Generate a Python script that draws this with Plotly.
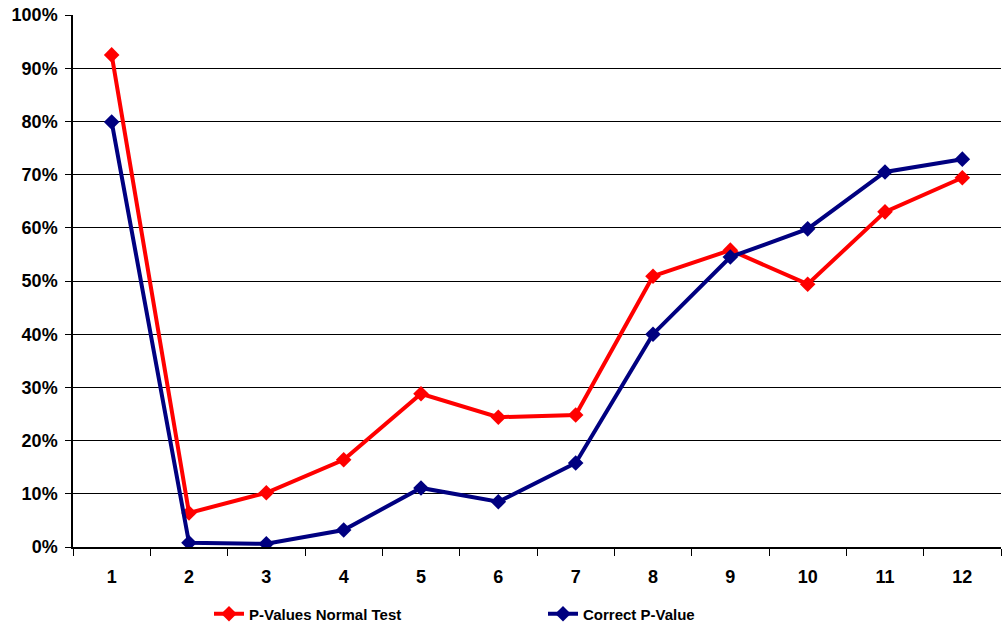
import plotly.graph_objects as go

# Sample index along the x axis
categories = ["1", "2", "3", "4", "5", "6", "7", "8", "9", "10", "11", "12"]

# p-values (fractions) for each test method
normal_test = [0.925, 0.064, 0.102, 0.164, 0.288, 0.244, 0.248, 0.509, 0.558, 0.494, 0.630, 0.694]
correct_p = [0.799, 0.008, 0.006, 0.032, 0.111, 0.085, 0.158, 0.400, 0.545, 0.598, 0.705, 0.729]

series_names = ["P-Values Normal Test", "Correct P-Value"]
y_ticks = [i / 10 for i in range(11)]
y_tick_labels = [f"{int(round(v * 100))}%" for v in y_ticks]

FONT = "Liberation Sans, Arial, sans-serif"


def bold(s):
    return f"<b>{s}</b>"


fig = go.Figure()
fig.add_trace(go.Scatter(
    x=categories, y=normal_test, name=bold(series_names[0]),
    mode="lines+markers",
    line=dict(color="#FF0000", width=4),
    marker=dict(symbol="diamond", size=12, color="#FF0000"),
))
fig.add_trace(go.Scatter(
    x=categories, y=correct_p, name=bold(series_names[1]),
    mode="lines+markers",
    line=dict(color="#000080", width=4),
    marker=dict(symbol="diamond", size=12, color="#000080"),
))

fig.update_layout(
    width=1002, height=629,
    margin=dict(l=73, r=1, t=15, b=82, autoexpand=False),
    paper_bgcolor="white", plot_bgcolor="white",
    font=dict(family=FONT, color="black"),
    showlegend=True,
    legend=dict(
        orientation="h", x=(209 - 73) / 928, xref="paper",
        xanchor="left", y=-0.126, yanchor="middle",
        font=dict(family=FONT, size=15, color="black"),
        entrywidth=289, entrywidthmode="pixels",
        bgcolor="rgba(0,0,0,0)",
    ),
    xaxis=dict(
        type="category", range=[-0.5, 11.5],
        tickvals=categories, ticktext=[bold(c) for c in categories],
        showgrid=False, showline=True, linecolor="black", linewidth=1.5,
        ticks="outside", tickson="boundaries", ticklen=7, tickcolor="black",
        tickfont=dict(family=FONT, size=18),
        ticklabelstandoff=13, zeroline=False,
    ),
    yaxis=dict(
        range=[0, 1], tickvals=y_ticks, ticktext=[bold(t) for t in y_tick_labels],
        showgrid=True, gridcolor="black", gridwidth=1,
        showline=True, linecolor="black", linewidth=1.5,
        ticks="outside", ticklen=6, tickcolor="black",
        tickfont=dict(family=FONT, size=18),
        ticklabelstandoff=4, zeroline=False,
    ),
)

fig.write_html("out.html")
